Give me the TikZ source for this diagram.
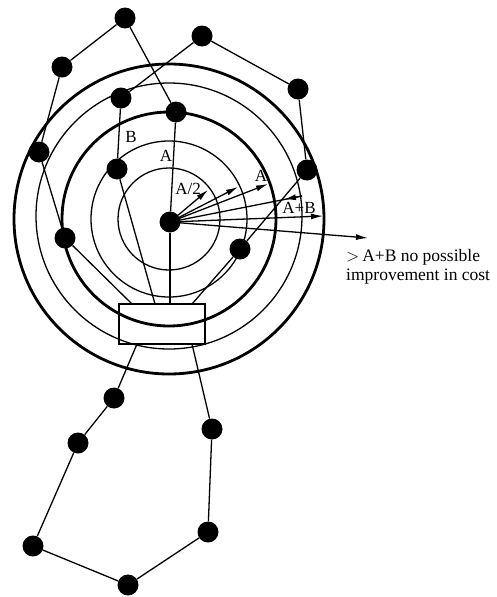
\documentclass[tikz,border=0pt]{standalone}
\usepackage{fontspec}
\setmainfont{Liberation Serif}
\usetikzlibrary{arrows.meta,calc}
\begin{document}
\begin{tikzpicture}[x=1pt,y=-1pt,
  dot/.style={circle,fill=black,inner sep=0pt,minimum size=21pt},
  thinline/.style={line width=1.3pt},
  ring/.style={line width=1.3pt},
  thickring/.style={line width=2.8pt},
  arr/.style={line width=1.3pt,-{Latex[length=12pt,width=6pt]}},
  lbl/.style={font=\fontsize{17}{17}\selectfont,inner sep=0pt}]
\useasboundingbox (0,0) rectangle (497,597);
% rings
\coordinate (c) at (169,219);
\draw[ring] (c) circle (51);
\draw[ring] (c) circle (78);
\draw[thickring] (c) circle (107);
\draw[ring] (169,216) circle (133);
\draw[thickring] (c) circle (155);
% box
\node[draw,line width=1.3pt,minimum width=86pt,minimum height=40pt,inner sep=0pt] (box) at (162,324) {};
\coordinate (b1) at (132,304);
\coordinate (b2) at (155,304);
\coordinate (b3) at (170,304);
\coordinate (b4) at (192,304);
\coordinate (b5) at (137,344);
\coordinate (b6) at (192,344);
% nodes
\node[dot] (n1) at (125,18) {};
\node[dot] (n2) at (62,67) {};
\node[dot] (n3) at (202,36) {};
\node[dot] (n4) at (298,89) {};
\node[dot] (n5) at (121,98) {};
\node[dot] (n6) at (176,112) {};
\node[dot] (n7) at (39,152) {};
\node[dot] (n8) at (117,169) {};
\node[dot] (n9) at (307,170) {};
\node[dot] (d) at (170,222) {};
\node[dot] (n11) at (65,238) {};
\node[dot] (n12) at (240,249) {};
\node[dot] (n13) at (114,398) {};
\node[dot] (n14) at (212,429) {};
\node[dot] (n15) at (78,443) {};
\node[dot] (n16) at (208,532) {};
\node[dot] (n17) at (33,546) {};
\node[dot] (n18) at (128,585) {};
% tour edges
\draw[thinline] (n2) -- (n1);
\draw[thinline] (n1) -- (n6);
\draw[thinline] (n6) -- (d);
\draw[thinline] (d) -- (b3);
\draw[thinline] (n2) -- (n7);
\draw[thinline] (n7) -- (n11);
\draw[thinline] (n11) -- (b1);
\draw[thinline] (n8) -- (n5);
\draw[thinline] (n5) -- (n3);
\draw[thinline] (n3) -- (n4);
\draw[thinline] (n4) -- (n9);
\draw[thinline] (n9) -- (n12);
\draw[thinline] (n12) -- (b4);
\draw[thinline] (n8) -- (b2);
\draw[thinline] (b5) -- (n13);
\draw[thinline] (n13) -- (n15);
\draw[thinline] (n15) -- (n17);
\draw[thinline] (n17) -- (n18);
\draw[thinline] (n18) -- (n16);
\draw[thinline] (n16) -- (n14);
\draw[thinline] (n14) -- (b6);
% radial arrows
\coordinate (t1) at (208,190);
\coordinate (t2) at (238,187);
\coordinate (t3) at (268,184);
\coordinate (t4) at (302,196);
\coordinate (t4b) at (284,199.5);
\coordinate (t5) at (323,216);
\coordinate (t6) at (368,238);
\draw[arr] (d.center) -- (t1);
\draw[arr] (d.center) -- (t2);
\draw[arr] (d.center) -- (t3);
\draw[thinline] (d.center) -- (t4);
\draw[arr] (t4) -- (t4b);
\draw[arr] (d.center) -- (t5);
\draw[arr] (d.center) -- (t6);
% labels
\node[lbl] (lB) at (131,137) {B};
\node[lbl] (lA) at (166,156) {A};
\node[lbl] (lA2) at (188,189) {A/2};
\node[lbl] (lA3) at (261,176) {A};
\node[lbl] (lAB) at (299,208) {A+B};
\node[font=\fontsize{17.5}{19}\selectfont,align=left,inner sep=0pt,anchor=north west] (txt) at (346,249) {$>$\,A+B no possible\\improvement in cost};
\end{tikzpicture}
\end{document}
